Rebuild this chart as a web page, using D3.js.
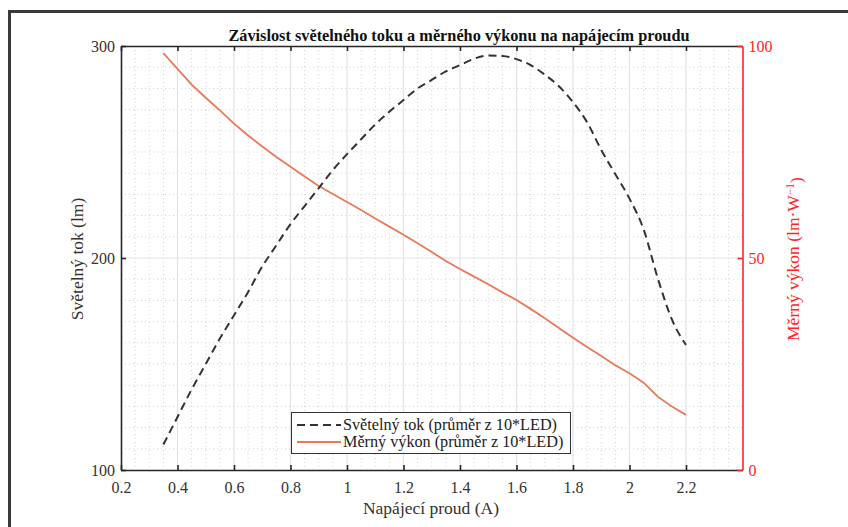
<!DOCTYPE html>
<html>
<head>
<meta charset="utf-8">
<script src="https://cdn.jsdelivr.net/npm/d3@7"></script>
<style>
  html, body { margin: 0; padding: 0; background: #fff; }
  svg { display: block; }
  text { font-family: "Liberation Serif", "Times New Roman", serif; }
</style>
</head>
<body>
<svg id="chart" width="848" height="527"></svg>
<script>
// Supply current (A)
const current = [0.35, 0.4, 0.45, 0.5, 0.55, 0.6, 0.65, 0.7, 0.75, 0.8, 0.85, 0.9, 0.95, 1.0,
  1.05, 1.1, 1.15, 1.2, 1.25, 1.3, 1.35, 1.4, 1.45, 1.5, 1.55, 1.6, 1.65, 1.7, 1.75, 1.8,
  1.85, 1.9, 1.95, 2.0, 2.05, 2.1, 2.15, 2.2];
// Luminous flux (lm), mean of 10 LEDs
const flux = [112, 125, 138, 150, 162, 173, 184, 196, 206, 216, 224.5, 233, 241.5, 249,
  256, 263, 269, 274.5, 280, 284, 288, 291, 294, 295.5, 295.3, 293.8, 291, 286.5, 281, 273.5,
  264, 251, 239.5, 228, 213.5, 190.5, 171, 159];
// Luminous efficacy (lm/W), mean of 10 LEDs
const efficacy = [98.3, 94.6, 90.9, 87.8, 84.8, 81.7, 78.9, 76.3, 73.8, 71.5, 69.2, 67.0, 65.1, 63.2,
  61.3, 59.3, 57.4, 55.5, 53.5, 51.4, 49.3, 47.4, 45.6, 43.8, 41.9, 40.1, 38.0, 35.8, 33.5, 31.2,
  29.0, 26.9, 24.7, 22.8, 20.6, 17.3, 15.0, 13.0];

const xTicks = [0.2, 0.4, 0.6, 0.8, 1.0, 1.2, 1.4, 1.6, 1.8, 2.0, 2.2];
const xTickLabels = ["0.2", "0.4", "0.6", "0.8", "1", "1.2", "1.4", "1.6", "1.8", "2", "2.2"];
const yLeftTicks = [100, 200, 300];
const yRightTicks = [0, 50, 100];
const seriesNames = ["Světelný tok (průměr z 10*LED)", "Měrný výkon (průměr z 10*LED)"];

const svg = d3.select("#chart");
const L = 121, R = 742.5, T = 46, B = 470;
const axisCol = "#262626", redCol = "#ff2424", fluxCol = "#333333", effCol = "#e9795a";

const x = d3.scaleLinear().domain([0.2, 2.4]).range([L, R]);
const yL = d3.scaleLinear().domain([100, 300]).range([B, T]);
const yR = d3.scaleLinear().domain([0, 100]).range([B, T]);

// outer figure frame
svg.append("rect").attr("x", 9.5).attr("y", 11.5).attr("width", 900).attr("height", 600)
  .attr("fill", "none").attr("stroke", "#3a3a3a").attr("stroke-width", 3);

// grid: minor dotted, major solid
const grid = svg.append("g");
const minorX = d3.range(0.25, 2.4, 0.05).filter(v => Math.abs(v * 5 - Math.round(v * 5)) > 1e-6);
const minorY = d3.range(110, 300, 10).filter(v => v !== 200);
grid.selectAll(".mx").data(minorX).join("line")
  .attr("x1", d => x(d)).attr("x2", d => x(d)).attr("y1", T).attr("y2", B)
  .attr("stroke", "#d4d4d4").attr("stroke-width", 1).attr("stroke-dasharray", "1,3");
grid.selectAll(".my").data(minorY).join("line")
  .attr("y1", d => yL(d)).attr("y2", d => yL(d)).attr("x1", L).attr("x2", R)
  .attr("stroke", "#d4d4d4").attr("stroke-width", 1).attr("stroke-dasharray", "1,3");
grid.selectAll(".Mx").data(xTicks.slice(1)).join("line")
  .attr("x1", d => x(d)).attr("x2", d => x(d)).attr("y1", T).attr("y2", B)
  .attr("stroke", "#e3e3e3").attr("stroke-width", 1.2);
grid.selectAll(".My").data([200]).join("line")
  .attr("y1", d => yL(d)).attr("y2", d => yL(d)).attr("x1", L).attr("x2", R)
  .attr("stroke", "#e3e3e3").attr("stroke-width", 1.2);

// axes
function styleAxis(g, col, size) {
  g.select(".domain").attr("stroke", col).attr("stroke-width", 1.6);
  g.selectAll(".tick line").attr("stroke", col).attr("stroke-width", 1.6);
  g.selectAll(".tick text").attr("fill", col).attr("font-size", size)
    .attr("font-family", "'Liberation Serif', serif");
}
const fmtX = (d, i) => xTickLabels[i];
const gB = svg.append("g").attr("transform", `translate(0,${B})`)
  .call(d3.axisBottom(x).tickValues(xTicks).tickFormat(fmtX).tickSize(-5).tickPadding(12).tickSizeOuter(0));
styleAxis(gB, axisCol, "16px");
gB.selectAll(".tick text").attr("fill", "#333");
const gT = svg.append("g").attr("transform", `translate(0,${T})`)
  .call(d3.axisTop(x).tickValues(xTicks).tickFormat("").tickSize(-5).tickSizeOuter(0));
styleAxis(gT, axisCol, "16px");
const gL = svg.append("g").attr("transform", `translate(${L},0)`)
  .call(d3.axisLeft(yL).tickValues(yLeftTicks).tickFormat(d3.format("d")).tickSize(-5).tickPadding(6).tickSizeOuter(0));
styleAxis(gL, axisCol, "16px");
gL.selectAll(".tick text").attr("fill", "#333");
const gR = svg.append("g").attr("transform", `translate(${R},0)`)
  .call(d3.axisRight(yR).tickValues(yRightTicks).tickFormat(d3.format("d")).tickSize(-5).tickPadding(6).tickSizeOuter(0));
styleAxis(gR, redCol, "16px");

// series
const lineFlux = d3.line().curve(d3.curveMonotoneX).x((d, i) => x(current[i])).y(d => yL(d));
const lineEff = d3.line().x((d, i) => x(current[i])).y(d => yR(d));
svg.append("path").datum(efficacy).attr("d", lineEff)
  .attr("fill", "none").attr("stroke", effCol).attr("stroke-width", 1.8);
svg.append("path").datum(flux).attr("d", lineFlux)
  .attr("fill", "none").attr("stroke", fluxCol).attr("stroke-width", 2)
  .attr("stroke-dasharray", "8,5");

// title and axis labels
svg.append("text").attr("x", 459).attr("y", 41).attr("text-anchor", "middle")
  .attr("font-size", "16.3px").attr("font-weight", "bold").attr("fill", "#111")
  .text("Závislost světelného toku a měrného výkonu na napájecím proudu");
svg.append("text").attr("x", 431).attr("y", 514).attr("text-anchor", "middle")
  .attr("font-size", "17.5px").attr("fill", "#333").text("Napájecí proud (A)");
svg.append("text").attr("transform", "translate(83,259) rotate(-90)").attr("text-anchor", "middle")
  .attr("font-size", "17.5px").attr("fill", "#333").text("Světelný tok (lm)");
const rl = svg.append("text").attr("transform", "translate(799,259) rotate(-90)").attr("text-anchor", "middle")
  .attr("font-size", "17.5px").attr("fill", redCol);
rl.append("tspan").text("Měrný výkon (lm·W");
rl.append("tspan").attr("dy", "-0.45em").attr("font-size", "11.5px").text("−1");
rl.append("tspan").attr("dy", "0.45em").text(")");

// legend
const lg = svg.append("g");
lg.append("rect").attr("x", 291.5).attr("y", 412.5).attr("width", 279).attr("height", 41)
  .attr("fill", "#fff").attr("stroke", "#333").attr("stroke-width", 1);
const rows = [
  { name: seriesNames[0], col: fluxCol, dash: "8,5", w: 2, y: 425 },
  { name: seriesNames[1], col: effCol, dash: null, w: 1.8, y: 442 }
];
rows.forEach(r => {
  lg.append("line").attr("x1", 297).attr("x2", 341).attr("y1", r.y).attr("y2", r.y)
    .attr("stroke", r.col).attr("stroke-width", r.w).attr("stroke-dasharray", r.dash);
  lg.append("text").attr("x", 343).attr("y", r.y + 5).attr("font-size", "16.2px")
    .attr("fill", "#222").text(r.name);
});
</script>
</body>
</html>
